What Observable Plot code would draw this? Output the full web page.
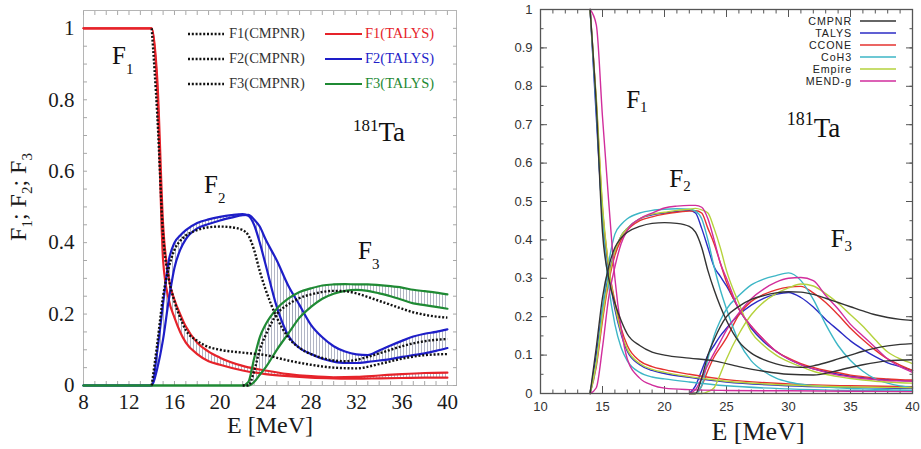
<!DOCTYPE html>
<html><head><meta charset="utf-8">
<script src="https://cdn.jsdelivr.net/npm/d3@7"></script>
<script src="https://cdn.jsdelivr.net/npm/@observablehq/plot@0.6"></script>
<style>
body{margin:0;background:#fff;}
#wrap{position:relative;width:921px;height:449px;overflow:hidden;background:#fff;}
#left{position:absolute;left:0;top:0;width:460px;height:449px;}
#right{position:absolute;left:460px;top:0;width:461px;height:449px;}
.leg{position:absolute;}
.lrow{display:flex;align-items:center;}
</style></head><body>
<div id="wrap"><div id="left"></div><div id="right"></div></div>
<script>
// ---------------- LEFT PANEL DATA (CMPNR vs TALYS bands) ----------------
const E1 = [8, 14, 14.5, 15, 15.5, 16, 16.5, 17, 18, 19, 20, 22, 24, 26, 28, 30, 32, 34, 36, 38, 40];
const f1Cmpnr  = [1, 1, 0.75, 0.42, 0.3, 0.235, 0.19, 0.155, 0.125, 0.108, 0.1, 0.092, 0.085, 0.07, 0.058, 0.05, 0.048, 0.06, 0.075, 0.085, 0.088];
const f1TalysA = [1, 1, 0.82, 0.35, 0.24, 0.19, 0.15, 0.12, 0.088, 0.068, 0.058, 0.042, 0.032, 0.026, 0.022, 0.02, 0.019, 0.02, 0.021, 0.022, 0.022];
const f1TalysB = [1, 1, 0.85, 0.45, 0.3, 0.24, 0.2, 0.165, 0.12, 0.095, 0.078, 0.055, 0.042, 0.032, 0.026, 0.023, 0.024, 0.028, 0.032, 0.035, 0.036];

const E2 = [8, 14, 14.5, 15, 15.5, 16, 16.5, 17, 18, 19, 20, 21, 22, 22.5, 23, 23.5, 24, 25, 26, 27, 28, 29, 30, 31, 32, 33, 34, 35, 36, 37, 38, 39, 40];
const f2Cmpnr  = [0, 0, 0.12, 0.25, 0.33, 0.38, 0.405, 0.42, 0.435, 0.443, 0.445, 0.443, 0.435, 0.42, 0.38, 0.32, 0.27, 0.19, 0.135, 0.105, 0.088, 0.077, 0.07, 0.068, 0.072, 0.08, 0.09, 0.1, 0.11, 0.118, 0.124, 0.128, 0.13];
const f2TalysA = [0, 0, 0.1, 0.23, 0.35, 0.4, 0.42, 0.435, 0.455, 0.465, 0.472, 0.477, 0.48, 0.475, 0.45, 0.4, 0.34, 0.22, 0.14, 0.105, 0.088, 0.075, 0.067, 0.063, 0.063, 0.066, 0.07, 0.074, 0.08, 0.085, 0.09, 0.097, 0.105];
const f2TalysB = [0, 0, 0.05, 0.13, 0.24, 0.33, 0.38, 0.41, 0.44, 0.452, 0.462, 0.47, 0.477, 0.478, 0.465, 0.445, 0.41, 0.35, 0.28, 0.225, 0.17, 0.135, 0.11, 0.095, 0.087, 0.085, 0.098, 0.112, 0.125, 0.137, 0.145, 0.15, 0.157];

const E3 = [8, 22, 22.5, 23, 23.5, 24, 25, 26, 27, 28, 29, 30, 31, 32, 33, 34, 35, 36, 37, 38, 39, 40];
const f3Cmpnr  = [0, 0, 0, 0.04, 0.1, 0.14, 0.2, 0.227, 0.245, 0.255, 0.262, 0.265, 0.264, 0.258, 0.248, 0.237, 0.226, 0.215, 0.205, 0.198, 0.193, 0.19];
const f3TalysA = [0, 0, 0.01, 0.075, 0.135, 0.17, 0.215, 0.243, 0.262, 0.272, 0.28, 0.283, 0.284, 0.283, 0.283, 0.281, 0.278, 0.274, 0.268, 0.264, 0.26, 0.255];
const f3TalysB = [0, 0, 0, 0.01, 0.03, 0.05, 0.1, 0.145, 0.19, 0.22, 0.243, 0.257, 0.265, 0.268, 0.265, 0.258, 0.25, 0.24, 0.23, 0.225, 0.22, 0.215];

const leftXTicks = [8, 12, 16, 20, 24, 28, 32, 36, 40];
const leftYTicks = [0, 0.2, 0.4, 0.6, 0.8, 1];
const leftLegendCmpnr = ["F1(CMPNR)", "F2(CMPNR)", "F3(CMPNR)"];
const leftLegendTalys = ["F1(TALYS)", "F2(TALYS)", "F3(TALYS)"];
const leftLabels = [
  {main: "F", sub: "1", E: 10.55, F: 0.899},
  {main: "F", sub: "2", E: 18.64, F: 0.538},
  {main: "F", sub: "3", E: 32.18, F: 0.353}
];
const leftIsotope = {sup: "181", main: "Ta", E: 31.74, F: 0.683};

// ---------------- RIGHT PANEL DATA (model comparison) ----------------
const models = ["CMPNR", "TALYS", "CCONE", "CoH3", "Empire", "MEND-g"];
const ER1 = [14, 14.5, 15, 15.5, 16, 16.5, 17, 18, 19, 20, 22, 25, 30, 35, 40];
const r1Talys  = [1, 0.72, 0.46, 0.32, 0.22, 0.155, 0.11, 0.075, 0.06, 0.052, 0.042, 0.03, 0.02, 0.016, 0.013];
const r1Ccone  = [1, 0.76, 0.48, 0.33, 0.24, 0.17, 0.125, 0.085, 0.07, 0.062, 0.05, 0.036, 0.025, 0.02, 0.018];
const r1Coh3   = [1, 0.74, 0.45, 0.28, 0.18, 0.12, 0.085, 0.055, 0.043, 0.038, 0.03, 0.02, 0.012, 0.008, 0.006];
const r1Empire = [1, 0.77, 0.49, 0.33, 0.23, 0.16, 0.115, 0.078, 0.063, 0.055, 0.044, 0.032, 0.022, 0.017, 0.015];
const r1Mend   = [1, 0.96, 0.72, 0.5, 0.3, 0.17, 0.09, 0.04, 0.022, 0.014, 0.01, 0.008, 0.007, 0.006, 0.005];

const ER2 = [14, 14.5, 15, 15.5, 16, 16.5, 17, 18, 19, 20, 21, 22, 22.5, 23, 23.5, 24, 24.5, 25, 26, 27, 28, 29, 30, 31, 32, 33, 34, 35, 36, 37, 38, 39, 40];
const r2Talys  = [0, 0.1, 0.22, 0.31, 0.37, 0.41, 0.43, 0.455, 0.465, 0.47, 0.474, 0.477, 0.47, 0.43, 0.38, 0.33, 0.305, 0.28, 0.22, 0.17, 0.135, 0.11, 0.09, 0.075, 0.064, 0.057, 0.05, 0.045, 0.041, 0.038, 0.036, 0.034, 0.033];
const r2Ccone  = [0, 0.07, 0.19, 0.29, 0.36, 0.4, 0.425, 0.45, 0.46, 0.467, 0.472, 0.475, 0.476, 0.47, 0.43, 0.39, 0.34, 0.29, 0.22, 0.175, 0.14, 0.11, 0.092, 0.078, 0.068, 0.06, 0.054, 0.048, 0.044, 0.04, 0.038, 0.036, 0.035];
const r2Coh3   = [0, 0.08, 0.22, 0.34, 0.415, 0.44, 0.455, 0.47, 0.477, 0.48, 0.481, 0.48, 0.475, 0.455, 0.4, 0.33, 0.27, 0.22, 0.135, 0.085, 0.058, 0.04, 0.03, 0.024, 0.02, 0.017, 0.015, 0.013, 0.012, 0.011, 0.01, 0.009, 0.008];
const r2Empire = [0, 0.08, 0.2, 0.3, 0.37, 0.41, 0.43, 0.455, 0.467, 0.472, 0.477, 0.48, 0.482, 0.478, 0.47, 0.43, 0.38, 0.32, 0.235, 0.16, 0.125, 0.1, 0.083, 0.07, 0.058, 0.05, 0.044, 0.039, 0.035, 0.032, 0.03, 0.028, 0.027];
const r2Mend   = [0, 0.015, 0.12, 0.25, 0.33, 0.39, 0.425, 0.455, 0.47, 0.483, 0.488, 0.49, 0.49, 0.485, 0.455, 0.4, 0.34, 0.3, 0.22, 0.175, 0.14, 0.11, 0.09, 0.075, 0.064, 0.055, 0.048, 0.043, 0.039, 0.036, 0.034, 0.033, 0.032];

const ER3 = [22, 22.5, 23, 23.5, 24, 24.5, 25, 26, 27, 28, 29, 30, 31, 32, 33, 34, 35, 36, 37, 38, 39, 40];
const r3Talys  = [0, 0.02, 0.06, 0.1, 0.125, 0.15, 0.17, 0.205, 0.23, 0.248, 0.258, 0.263, 0.25, 0.225, 0.193, 0.165, 0.137, 0.115, 0.096, 0.08, 0.07, 0.06];
const r3Ccone  = [0, 0, 0.02, 0.06, 0.095, 0.12, 0.145, 0.205, 0.24, 0.258, 0.27, 0.277, 0.279, 0.262, 0.237, 0.205, 0.17, 0.14, 0.113, 0.09, 0.074, 0.06];
const r3Coh3   = [0, 0, 0.02, 0.09, 0.15, 0.19, 0.22, 0.255, 0.283, 0.298, 0.307, 0.314, 0.294, 0.245, 0.18, 0.125, 0.086, 0.058, 0.038, 0.027, 0.02, 0.016];
const r3Empire = [0, 0, 0, 0.005, 0.015, 0.05, 0.09, 0.155, 0.205, 0.238, 0.26, 0.275, 0.285, 0.28, 0.26, 0.235, 0.205, 0.175, 0.14, 0.108, 0.09, 0.078];
const r3Mend   = [0, 0.01, 0.04, 0.075, 0.105, 0.135, 0.165, 0.21, 0.247, 0.272, 0.29, 0.3, 0.302, 0.294, 0.255, 0.22, 0.18, 0.15, 0.12, 0.09, 0.07, 0.055];

const rightXTicks = [10, 15, 20, 25, 30, 35, 40];
const rightYTicks = [0, 0.1, 0.2, 0.3, 0.4, 0.5, 0.6, 0.7, 0.8, 0.9, 1];
const rightLabels = [
  {main: "F", sub: "1", E: 16.95, F: 0.742},
  {main: "F", sub: "2", E: 20.43, F: 0.536},
  {main: "F", sub: "3", E: 33.44, F: 0.380}
];
const rightIsotope = {sup: "181", main: "Ta", E: 29.89, F: 0.667};

// ---------------- styles ----------------
const SERIF = "Liberation Serif";
const SANS = "Liberation Sans";
const RED = "#e6232a", BLUE = "#1e1ec8", GREEN = "#1f8a34";
const modelColors = ["#333333", "#2b2bc4", "#e5322f", "#3db6c6", "#b5d23c", "#d12d9c"];

// ---------------- helpers ----------------
const rows = (E, v, series, minE = -Infinity) => E.map((e, i) => ({E: e, F: v[i], series})).filter(d => d.E >= minE);
const band = (E, a, b) => E.map((e, i) => ({E: e, lo: a[i], hi: b[i]}));

function addLabel(svg, a, st) {
  const sx = svg.scale("x"), sy = svg.scale("y");
  const t = d3.select(svg).append("text")
    .attr("x", sx.apply(a.E)).attr("y", sy.apply(a.F))
    .attr("text-anchor", "start")
    .attr("font-family", SERIF).attr("fill", "#111");
  if (a.sup) {
    t.append("tspan").attr("font-size", st.supSize).attr("dy", -st.supDy).text(a.sup);
    t.append("tspan").attr("font-size", st.size).attr("dy", st.supDy).text(a.main);
  } else {
    t.append("tspan").attr("font-size", st.size).text(a.main);
  }
  if (a.sub) t.append("tspan").attr("font-size", st.subSize).attr("dy", st.subDy).text(a.sub);
}

function swatch(color, w, dash, sw) {
  return `<svg width="${w}" height="8" style="display:block"><line x1="0" y1="4" x2="${w}" y2="4" stroke="${color}" stroke-width="${sw}" ${dash ? `stroke-dasharray="${dash}"` : ""}/></svg>`;
}

// ---------------- LEFT PLOT ----------------
const lineOpts = (color, w) => ({x: "E", y: "F", stroke: color, strokeWidth: w, curve: "monotone-x"});
const DOT = "2,1.8";
const dotOpts = {x: "E", y: "F", stroke: "#111", strokeWidth: 2.4, strokeDasharray: DOT, strokeLinecap: "butt", curve: "monotone-x"};
const hatchOpts = {x: "E", y1: "lo", y2: "hi", fill: "url(#hatch)", curve: "monotone-x"};
const inTick = "#a8a8a8";

const left = Plot.plot({
  width: 460, height: 449,
  marginLeft: 83, marginRight: 4, marginTop: 10, marginBottom: 64,
  style: {fontFamily: SERIF, background: "#fff", color: "#1a1a1a"},
  x: {domain: [8, 40.8]},
  y: {domain: [0, 1.05]},
  marks: [
    Plot.areaY(band(E1, f1TalysA, f1TalysB), hatchOpts),
    Plot.areaY(band(E2, f2TalysA, f2TalysB), hatchOpts),
    Plot.areaY(band(E3, f3TalysA, f3TalysB), hatchOpts),
    Plot.frame({stroke: "#b5b5b5"}),
    Plot.axisX({ticks: d3.range(8, 41, 1), tickSize: -4, stroke: inTick, fill: "none", label: null}),
    Plot.axisX({anchor: "top", ticks: d3.range(8, 41, 1), tickSize: -4, stroke: inTick, fill: "none", label: null}),
    Plot.axisY({ticks: d3.range(0, 21).map(i => i * 0.05), tickSize: -4, stroke: inTick, fill: "none", label: null}),
    Plot.axisY({anchor: "right", ticks: d3.range(0, 21).map(i => i * 0.05), tickSize: -4, stroke: inTick, fill: "none", label: null}),
    Plot.axisX({ticks: leftXTicks, tickSize: 0, tickPadding: 9, fontSize: 21, fontFamily: SERIF, label: null, tickFormat: d => String(d)}),
    Plot.axisY({ticks: leftYTicks, tickSize: 0, tickPadding: 9, fontSize: 21, fontFamily: SERIF, label: null, tickFormat: d => String(d)}),
    Plot.line(rows(E1, f1TalysA, "a"), lineOpts(RED, 2.2)),
    Plot.line(rows(E1, f1TalysB, "b"), lineOpts(RED, 2.2)),
    Plot.line(rows(E2, f2TalysA, "a"), lineOpts(BLUE, 2.2)),
    Plot.line(rows(E2, f2TalysB, "b"), lineOpts(BLUE, 2.2)),
    Plot.line(rows(E3, f3TalysA, "a"), lineOpts(GREEN, 2.2)),
    Plot.line(rows(E3, f3TalysB, "b"), lineOpts(GREEN, 2.2)),
    Plot.line(rows(E1, f1Cmpnr, "c", 14), dotOpts),
    Plot.line(rows(E2, f2Cmpnr, "c", 14), dotOpts),
    Plot.line(rows(E3, f3Cmpnr, "c", 22), dotOpts)
  ]
});
document.getElementById("left").append(left);
d3.select(left).insert("defs", ":first-child").html(
  `<pattern id="hatch" patternUnits="userSpaceOnUse" width="3" height="6">
     <line x1="1.5" y1="0" x2="1.5" y2="6" stroke="#9ea3b6" stroke-width="0.8"/>
   </pattern>`);
leftLabels.forEach(a => addLabel(left, a, {size: 25, subSize: 15, subDy: 10}));
addLabel(left, leftIsotope, {size: 27, supSize: 17, supDy: 10});
// axis titles
d3.select(left).append("text").attr("x", 270).attr("y", 433).attr("text-anchor", "middle")
  .attr("font-family", SERIF).attr("font-size", 24).attr("fill", "#1a1a1a").text("E [MeV]");
{
  const yl = d3.select(left).append("text").attr("transform", "translate(26,197) rotate(-90)")
    .attr("text-anchor", "middle").attr("font-family", SERIF).attr("font-size", 24).attr("fill", "#1a1a1a");
  [["F", "1", "; "], ["F", "2", "; "], ["F", "3", ""]].forEach(([m, s, sep]) => {
    yl.append("tspan").text(m);
    yl.append("tspan").attr("font-size", 15).attr("dy", 6).text(s);
    yl.append("tspan").attr("dy", -6).text(sep);
  });
}
// left legend
{
  const leg = document.createElement("div");
  leg.className = "leg";
  leg.style.cssText = `left:188px;top:21px;font-family:'${SERIF}';font-size:14.5px;display:grid;grid-template-columns:137px auto;grid-auto-rows:25px;align-items:center;`;
  const tc = [RED, BLUE, GREEN];
  leftLegendCmpnr.forEach((t, i) => {
    leg.insertAdjacentHTML("beforeend",
      `<div class="lrow"><span style="margin-right:5px">${swatch("#111", 36, DOT, 2.4)}</span><span style="color:#333">${t}</span></div>` +
      `<div class="lrow"><span style="margin-right:3px">${swatch(tc[i], 37, null, 2.2)}</span><span style="color:${tc[i]}">${leftLegendTalys[i]}</span></div>`);
  });
  document.getElementById("left").append(leg);
}

// ---------------- RIGHT PLOT ----------------
const r1 = [r1Talys, r1Ccone, r1Coh3, r1Empire, r1Mend];
const r2 = [r2Talys, r2Ccone, r2Coh3, r2Empire, r2Mend];
const r3 = [r3Talys, r3Ccone, r3Coh3, r3Empire, r3Mend];
let rightRows = [];
models.slice(1).forEach((m, k) => {
  rightRows.push(...rows(ER1, r1[k], m).map(d => ({...d, curve: m + "1"})));
  rightRows.push(...rows(ER2, r2[k], m).map(d => ({...d, curve: m + "2"})));
  rightRows.push(...rows(ER3, r3[k], m).map(d => ({...d, curve: m + "3"})));
});
rightRows.push(...rows(E1, f1Cmpnr, "CMPNR", 14).map(d => ({...d, curve: "C1"})));
rightRows.push(...rows(E2, f2Cmpnr, "CMPNR", 14).map(d => ({...d, curve: "C2"})));
rightRows.push(...rows(E3, f3Cmpnr, "CMPNR", 22).map(d => ({...d, curve: "C3"})));

const rTick = "#555";
const right = Plot.plot({
  width: 461, height: 449,
  marginLeft: 80, marginRight: 9, marginTop: 9, marginBottom: 56,
  style: {fontFamily: SANS, background: "#fff", color: "#333"},
  x: {domain: [10, 40]},
  y: {domain: [0, 1]},
  color: {domain: models, range: modelColors},
  marks: [
    Plot.axisX({ticks: d3.range(10, 41, 1), tickSize: -3.5, stroke: rTick, fill: "none", label: null}),
    Plot.axisX({anchor: "top", ticks: d3.range(10, 41, 1), tickSize: -3.5, stroke: rTick, fill: "none", label: null}),
    Plot.axisX({ticks: rightXTicks, tickSize: -7, stroke: rTick, fill: "none", label: null}),
    Plot.axisX({anchor: "top", ticks: rightXTicks, tickSize: -7, stroke: rTick, fill: "none", label: null}),
    Plot.axisY({ticks: d3.range(0, 21).map(i => i * 0.05), tickSize: -3.5, stroke: rTick, fill: "none", label: null}),
    Plot.axisY({anchor: "right", ticks: d3.range(0, 21).map(i => i * 0.05), tickSize: -3.5, stroke: rTick, fill: "none", label: null}),
    Plot.axisY({ticks: rightYTicks, tickSize: -7, stroke: rTick, fill: "none", label: null}),
    Plot.axisY({anchor: "right", ticks: rightYTicks, tickSize: -7, stroke: rTick, fill: "none", label: null}),
    Plot.axisX({ticks: rightXTicks, tickSize: 0, tickPadding: 8, fontSize: 13, fontFamily: SANS, label: null, tickFormat: d => String(d)}),
    Plot.axisY({ticks: rightYTicks, tickSize: 0, tickPadding: 8, fontSize: 13, fontFamily: SANS, label: null, tickFormat: d => String(d)}),
    Plot.line(rightRows, {x: "E", y: "F", z: "curve", stroke: "series", strokeWidth: 1.4, curve: "monotone-x"}),
    Plot.frame({stroke: "#555", strokeWidth: 1.3})
  ]
});
document.getElementById("right").append(right);
rightLabels.forEach(a => addLabel(right, a, {size: 25, subSize: 15, subDy: 4}));
addLabel(right, rightIsotope, {size: 27, supSize: 18, supDy: 12});
d3.select(right).append("text").attr("x", 298).attr("y", 440).attr("text-anchor", "middle")
  .attr("font-family", SERIF).attr("font-size", 26).attr("fill", "#1a1a1a").text("E [MeV]");
// right legend
{
  const leg = document.createElement("div");
  leg.className = "leg";
  leg.style.cssText = `right:25px;top:15px;font-family:'${SANS}';font-size:10.7px;line-height:12px;letter-spacing:0.9px;color:#222;`;
  models.forEach((m, i) => {
    leg.insertAdjacentHTML("beforeend",
      `<div class="lrow" style="justify-content:flex-end;height:12px"><span>${m}</span><span style="margin-left:8px">${swatch(modelColors[i], 36, null, 1.5)}</span></div>`);
  });
  document.getElementById("right").append(leg);
}
</script></body></html>
